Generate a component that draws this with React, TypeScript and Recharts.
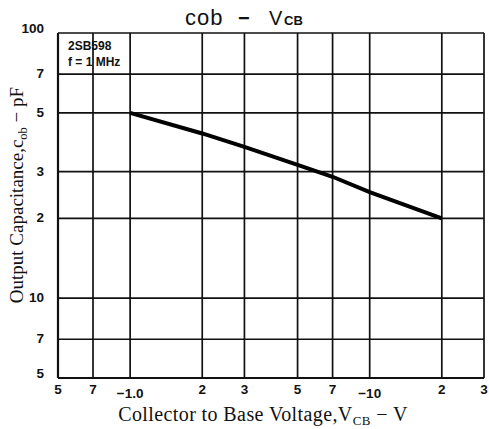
import { CartesianGrid, Line, LineChart, XAxis, YAxis } from 'recharts'

// V_CB magnitude (V) on a log axis, labels carry the sign like the datasheet.
const VCB = [1, 2, 3, 5, 7, 10, 20]
const COB = [50, 41.8, 37.2, 31.8, 28.7, 25.1, 20]

const X_TICKS = [0.5, 0.7, 1, 2, 3, 5, 7, 10, 20, 30]
const X_LABELS = ['5', '7', '\u22121.0', '2', '3', '5', '7', '\u221210', '2', '3']
const Y_TICKS = [5, 7, 10, 20, 30, 50, 70, 100]
const Y_LABELS = ['5', '7', '10', '2', '3', '5', '7', '100']

const data = VCB.map((v, i) => ({ v, c: COB[i] }))

const SANS = '"Liberation Sans", Arial, sans-serif'
const SERIF = '"Liberation Serif", "Times New Roman", serif'
const INK = '#111'

function XTick(props: any) {
  const { x, y, payload } = props
  const i = X_TICKS.indexOf(payload.value)
  const label = X_LABELS[i] ?? ''
  const low = label.startsWith('\u2212')
  return (
    <text x={x} y={y + (low ? 12 : 8)} textAnchor="middle" fontFamily={SANS} fontWeight="bold" fontSize={13.5} fill={INK}>
      {label}
    </text>
  )
}

function YTick(props: any) {
  const { x, y, payload } = props
  const i = Y_TICKS.indexOf(payload.value)
  const label = Y_LABELS[i] ?? ''
  // top and bottom labels sit on/above their line, the rest are centred
  const dy = payload.value === 100 || payload.value === 5 ? 0 : 4
  return (
    <text x={x - 6} y={y + dy} textAnchor="end" fontFamily={SANS} fontWeight="bold" fontSize={13.5} fill={INK}>
      {label}
    </text>
  )
}

export default function App() {
  return (
    <div style={{ position: 'absolute', left: 0, top: 0, width: 489, height: 429, background: '#fff' }}>
      <LineChart width={489} height={429} data={data} margin={{ top: 33, right: 5, bottom: 0, left: 0 }}>
        <CartesianGrid stroke={INK} strokeWidth={1.7} />
        <XAxis
          dataKey="v"
          type="number"
          scale="log"
          domain={[0.5, 30]}
          ticks={X_TICKS}
          interval={0}
          height={51}
          tick={<XTick />}
          tickLine={false}
          axisLine={{ stroke: INK, strokeWidth: 2.2 }}
          allowDataOverflow
        />
        <YAxis
          type="number"
          scale="log"
          domain={[5, 100]}
          ticks={Y_TICKS}
          interval={0}
          width={58}
          tick={<YTick />}
          tickLine={false}
          axisLine={{ stroke: INK, strokeWidth: 2.2 }}
          allowDataOverflow
        />
        <Line dataKey="c" type="linear" stroke="#000" strokeWidth={4} dot={false} isAnimationActive={false} />
      </LineChart>

      <svg width={489} height={429} style={{ position: 'absolute', left: 0, top: 0, pointerEvents: 'none' }}>
        {/* title */}
        <g fontFamily={SANS} fill={INK}>
          <text x={185} y={25} fontSize={22} letterSpacing={1}>cob</text>
          <text x={238} y={25} fontSize={20} fontWeight="bold">&minus;</text>
          <text x={269} y={25} fontSize={20}>V</text>
          <text x={284} y={25} fontSize={13} fontWeight="bold">CB</text>
        </g>

        {/* part note inside plot */}
        <g fontFamily={SANS} fontWeight="bold" fontSize={12} fill={INK}>
          <text x={68} y={50}>2SB598</text>
          <text x={68} y={66}>f = 1 MHz</text>
        </g>

        {/* y axis title */}
        <text transform="translate(23,195) rotate(-90)" textAnchor="middle" fontFamily={SERIF} fontSize={19} fill={INK}>
          Output Capacitance,c<tspan fontSize={12.5} dy={4}>ob</tspan>
          <tspan dy={-4}> &minus; pF</tspan>
        </text>

        {/* x axis title */}
        <text x={263} y={421} textAnchor="middle" fontFamily={SERIF} fontSize={20} letterSpacing={0.4} fill={INK}>
          Collector to Base Voltage,V<tspan fontSize={13} dy={4}>CB</tspan>
          <tspan dy={-4}> &minus; V</tspan>
        </text>
      </svg>
    </div>
  )
}
